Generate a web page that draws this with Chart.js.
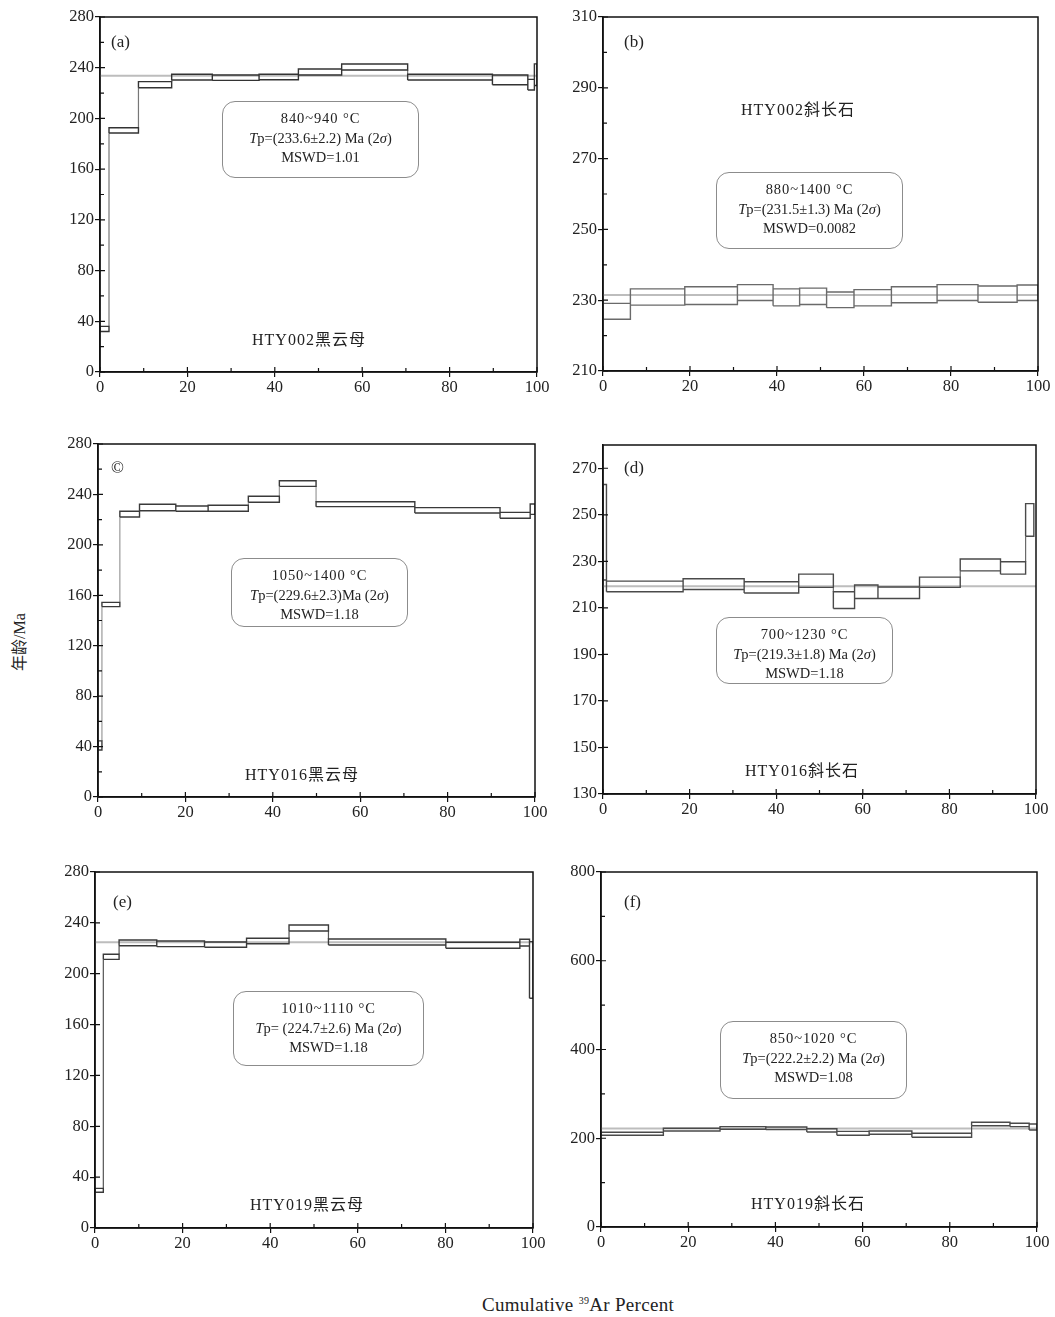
<!DOCTYPE html>
<html><head><meta charset="utf-8">
<script src="https://cdn.jsdelivr.net/npm/chart.js@4"></script>
<style>
body{margin:0;background:#fff;width:1055px;height:1317px;position:relative;overflow:hidden;font-family:"Liberation Serif","DejaVu Serif",serif;}
canvas{position:absolute;}
.note{position:absolute;border:1px solid #8c8c8c;border-radius:13px;text-align:center;font-size:14.5px;line-height:19.5px;color:#222;box-sizing:border-box;padding-top:7px;white-space:nowrap;}
.note .t1{letter-spacing:0.9px;}
.lbl{position:absolute;font-size:16px;color:#222;white-space:nowrap;font-family:"Liberation Serif","Noto Sans CJK SC",serif;letter-spacing:1px;}
.tag{position:absolute;font-size:17px;color:#222;white-space:nowrap;}
</style></head><body>
<script>
// ---- shared ticks ----
const xTicks=[0,20,40,60,80,100];

// (a) HTY002 黑云母
const aEdges=[0,2.06,8.8,16.4,25.7,36.4,45.4,55.3,70.4,89.8,97.9,99.4,100];
const aLow =[32,188.5,224.2,230.3,230.0,230.5,234.2,238.2,230.3,226.6,222.4,226];
const aHigh=[36,192.7,229.0,234.8,234.2,234.8,239.0,242.9,234.8,234.2,230.8,243];
const aPlateau=233.6;
const aYTicks=[0,40,80,120,160,200,240,280];

// (b) HTY002 斜长石
const bEdges=[0,6.3,18.8,30.9,39.1,45.2,51.4,57.7,66.3,76.8,86.2,95.2,100];
const bLow =[224.6,228.6,228.8,229.9,228.4,228.8,227.9,228.4,229.3,229.9,229.4,229.9];
const bHigh=[229.1,233.2,233.8,234.4,233.2,233.4,232.3,233.0,233.8,234.4,234.0,234.3];
const bPlateau=231.5;
const bYTicks=[210,230,250,270,290,310];

// (c) HTY016 黑云母
const cEdges=[0,0.9,5.0,9.5,17.8,25.2,34.4,41.5,49.9,72.5,92.0,98.9,100];
const cLow =[37.3,151.0,222.1,227.1,226.6,226.6,233.8,246.4,230.3,225.3,221.1,224.2];
const cHigh=[44.5,154.4,226.6,232.2,230.8,231.4,238.5,250.9,234.2,229.5,225.8,232.4];
const cPlateau=null;
const cYTicks=[0,40,80,120,160,200,240,280];

// (d) HTY016 斜长石
const dEdges=[0,0.8,18.5,32.6,45.2,53.2,58.1,63.5,73.1,82.5,91.8,97.6,99.5];
const dLow =[222,216.9,217.9,216.4,218.8,209.7,214.0,214.0,218.8,225.9,224.5,240.8];
const dHigh=[263,221.5,222.5,221.2,224.5,216.9,219.8,219.0,223.2,231.0,229.8,254.8];
const dPlateau=219.3;
const dYTicks=[130,150,170,190,210,230,250,270];

// (e) HTY019 黑云母
const eEdges=[0,1.9,5.5,14.1,25.0,34.6,44.3,53.3,80.1,97.0,99.2,100];
const eLow =[28.1,211.3,222.0,221.3,220.8,223.6,233.6,222.6,220.0,221.8,180.7];
const eHigh=[31.2,215.3,226.5,225.7,224.9,227.9,238.3,227.3,224.7,227.1,225.2];
const ePlateau=224.7;
const eYTicks=[0,40,80,120,160,200,240,280];

// (f) HTY019 斜长石
const fEdges=[0,14.3,27.3,37.8,47.2,54.1,61.5,71.3,85.0,93.8,98.2,100];
const fLow =[206.6,216.3,220.2,219.5,214.1,206.6,208.9,202.1,228.3,226.1,218.6];
const fHigh=[213.4,222.4,226.1,225.5,221.5,215.6,216.3,211.1,235.9,233.7,232.1];
const fPlateau=222.2;
const fYTicks=[0,200,400,600,800];

const panelTags=['(a)','(b)','©','(d)','(e)','(f)'];
const sampleNames=['HTY002黑云母','HTY002斜长石','HTY016黑云母','HTY016斜长石','HTY019黑云母','HTY019斜长石'];
const tempRanges=['840~940 °C','880~1400 °C','1050~1400 °C','700~1230 °C','1010~1110 °C','850~1020 °C'];
const tpTexts=['=(233.6±2.2) Ma (2','=(231.5±1.3) Ma (2','=(229.6±2.3)Ma (2','=(219.3±1.8) Ma (2','= (224.7±2.6) Ma (2','=(222.2±2.2) Ma (2'];
const mswdTexts=['MSWD=1.01','MSWD=0.0082','MSWD=1.18','MSWD=1.18','MSWD=1.18','MSWD=1.08'];

// ---- layout (styling only) ----
const panels=[
 {edges:aEdges,low:aLow,high:aHigh,plateau:aPlateau,yTicks:aYTicks,yMin:0,yMax:280,minorY:true,L:100,R:537,T:17,B:372,col:'#333',conn:'#777',
  tag:[111,32],name:[252,326],note:[222,101,197,77]},
 {edges:bEdges,low:bLow,high:bHigh,plateau:bPlateau,yTicks:bYTicks,yMin:210,yMax:310,minorY:true,L:603,R:1038,T:17,B:371,col:'#6a6a6a',conn:'#6a6a6a',
  tag:[624,32],name:[741,96],note:[716,172,187,77]},
 {edges:cEdges,low:cLow,high:cHigh,plateau:cPlateau,yTicks:cYTicks,yMin:0,yMax:280,minorY:true,L:98,R:535,T:444,B:797,col:'#3a3a3a',conn:'#9a9a9a',
  tag:[111,458],name:[245,761],note:[231,558,177,69]},
 {edges:dEdges,low:dLow,high:dHigh,plateau:dPlateau,yTicks:dYTicks,yMin:130,yMax:280,minorY:false,L:603,R:1036,T:445,B:794,col:'#4a4a4a',conn:'#6a6a6a',
  tag:[624,458],name:[745,757],note:[716,617,177,67]},
 {edges:eEdges,low:eLow,high:eHigh,plateau:ePlateau,yTicks:eYTicks,yMin:0,yMax:280,minorY:false,L:95,R:533,T:872,B:1228,col:'#3a3a3a',conn:'#555',
  tag:[113,892],name:[250,1191],note:[233,991,191,75]},
 {edges:fEdges,low:fLow,high:fHigh,plateau:fPlateau,yTicks:fYTicks,yMin:0,yMax:800,minorY:true,L:601,R:1037,T:872,B:1227,col:'#4a4a4a',conn:'#4a4a4a',
  tag:[624,892],name:[751,1190],note:[720,1021,187,78]}
];

const FONT={family:'"Liberation Serif","DejaVu Serif",serif',size:16.5};

const framePlugin={
  id:'frame',
  afterDraw(chart,args,opts){
    const {ctx,chartArea:a,scales:{x,y}}=chart;
    ctx.save();
    ctx.strokeStyle='#111';ctx.lineWidth=1.5;
    ctx.strokeRect(a.left,a.top,a.right-a.left,a.bottom-a.top);
    ctx.lineWidth=1.2;
    ctx.beginPath();
    y.ticks.forEach(t=>{const p=y.getPixelForValue(t.value);ctx.moveTo(a.left,p);ctx.lineTo(a.left+5,p);});
    x.ticks.forEach(t=>{const p=x.getPixelForValue(t.value);ctx.moveTo(p,a.bottom);ctx.lineTo(p,a.bottom-5);});
    if(opts.minorY){
      for(let i=0;i<y.ticks.length-1;i++){const v=(y.ticks[i].value+y.ticks[i+1].value)/2;const p=y.getPixelForValue(v);ctx.moveTo(a.left,p);ctx.lineTo(a.left+4,p);}
    }
    for(let i=0;i<x.ticks.length-1;i++){const v=(x.ticks[i].value+x.ticks[i+1].value)/2;const p=x.getPixelForValue(v);ctx.moveTo(p,a.bottom);ctx.lineTo(p,a.bottom-4);}
    ctx.stroke();
    ctx.restore();
  }
};

function build(p,idx){
  const padL=56,padT=12,padR=18,padB=30;
  const W=p.R-p.L+padL+padR,H=p.B-p.T+padT+padB;
  const cv=document.createElement('canvas');
  cv.width=W;cv.height=H;cv.style.width=W+'px';cv.style.height=H+'px';
  cv.style.left=(p.L-padL)+'px';cv.style.top=(p.T-padT)+'px';
  document.body.appendChild(cv);

  const boxes=[],conns=[];
  const n=p.low.length;
  for(let i=0;i<n;i++){
    const x0=p.edges[i],x1=p.edges[i+1];
    boxes.push({x:x0,y:p.low[i]},{x:x0,y:p.high[i]},{x:x1,y:p.high[i]},{x:x1,y:p.low[i]},{x:x0,y:p.low[i]},{x:x1,y:null});
    if(i<n-1){
      if(p.high[i]<p.low[i+1]) conns.push({x:x1,y:p.high[i]},{x:x1,y:p.low[i+1]},{x:x1,y:null});
      else if(p.high[i+1]<p.low[i]) conns.push({x:x1,y:p.high[i+1]},{x:x1,y:p.low[i]},{x:x1,y:null});
    }
  }
  const datasets=[
    {data:boxes,showLine:true,borderColor:p.col,borderWidth:1.4,pointRadius:0,spanGaps:false,tension:0},
    {data:conns,showLine:true,borderColor:p.conn,borderWidth:1.2,pointRadius:0,spanGaps:false,tension:0}
  ];
  if(p.plateau!==null){
    datasets.push({data:[{x:0,y:p.plateau},{x:100,y:p.plateau}],showLine:true,borderColor:'#bdbdbd',borderWidth:2,pointRadius:0});
  }
  new Chart(cv,{
    type:'scatter',
    data:{datasets},
    options:{
      responsive:false,animation:false,
      layout:{padding:{left:0,top:padT,right:padR,bottom:0}},
      plugins:{legend:{display:false},tooltip:{enabled:false},frame:{minorY:p.minorY}},
      scales:{
        x:{type:'linear',min:0,max:100,
          afterBuildTicks:s=>{s.ticks=xTicks.map(v=>({value:v}));},
          afterFit:s=>{s.height=padB;s.paddingLeft=0;s.paddingRight=0;},
          ticks:{font:FONT,color:'#222',padding:1,maxRotation:0,autoSkip:false},
          grid:{drawOnChartArea:false,tickLength:5,color:'#111',lineWidth:1.2},
          border:{color:'#111',width:1.5}},
        y:{type:'linear',min:p.yMin,max:p.yMax,
          afterBuildTicks:s=>{s.ticks=p.yTicks.map(v=>({value:v}));},
          afterFit:s=>{s.width=padL;s.paddingTop=0;s.paddingBottom=0;},
          ticks:{font:FONT,color:'#222',padding:1,autoSkip:false},
          grid:{drawOnChartArea:false,tickLength:5,color:'#111',lineWidth:1.2},
          border:{color:'#111',width:1.5}}
      }
    },
    plugins:[framePlugin]
  });

  const tag=document.createElement('div');tag.className='tag';
  tag.style.left=p.tag[0]+'px';tag.style.top=p.tag[1]+'px';tag.textContent=panelTags[idx];
  document.body.appendChild(tag);
  const nm=document.createElement('div');nm.className='lbl';
  nm.style.left=p.name[0]+'px';nm.style.top=p.name[1]+'px';nm.textContent=sampleNames[idx];
  document.body.appendChild(nm);
  const note=document.createElement('div');note.className='note';
  note.style.left=p.note[0]+'px';note.style.top=p.note[1]+'px';note.style.width=p.note[2]+'px';note.style.height=p.note[3]+'px';
  note.innerHTML='<span class="t1">'+tempRanges[idx]+'</span><br><i>T</i>p'+tpTexts[idx]+'<i>σ</i>)<br>'+mswdTexts[idx];
  document.body.appendChild(note);
}
panels.forEach(build);

const yt=document.createElement('div');
yt.style.cssText='position:absolute;left:-12px;top:630px;width:60px;text-align:center;transform:rotate(-90deg);font-size:16px;color:#222;font-family:"Liberation Serif","Noto Sans CJK SC",serif;white-space:nowrap;';
yt.textContent='年龄/Ma';
document.body.appendChild(yt);
const xt=document.createElement('div');
xt.style.cssText='position:absolute;left:428px;top:1294px;width:300px;text-align:center;font-size:19px;letter-spacing:0.3px;color:#222;white-space:nowrap;';
xt.innerHTML='Cumulative <sup style="font-size:10px">39</sup>Ar Percent';
document.body.appendChild(xt);
</script>
</body></html>
